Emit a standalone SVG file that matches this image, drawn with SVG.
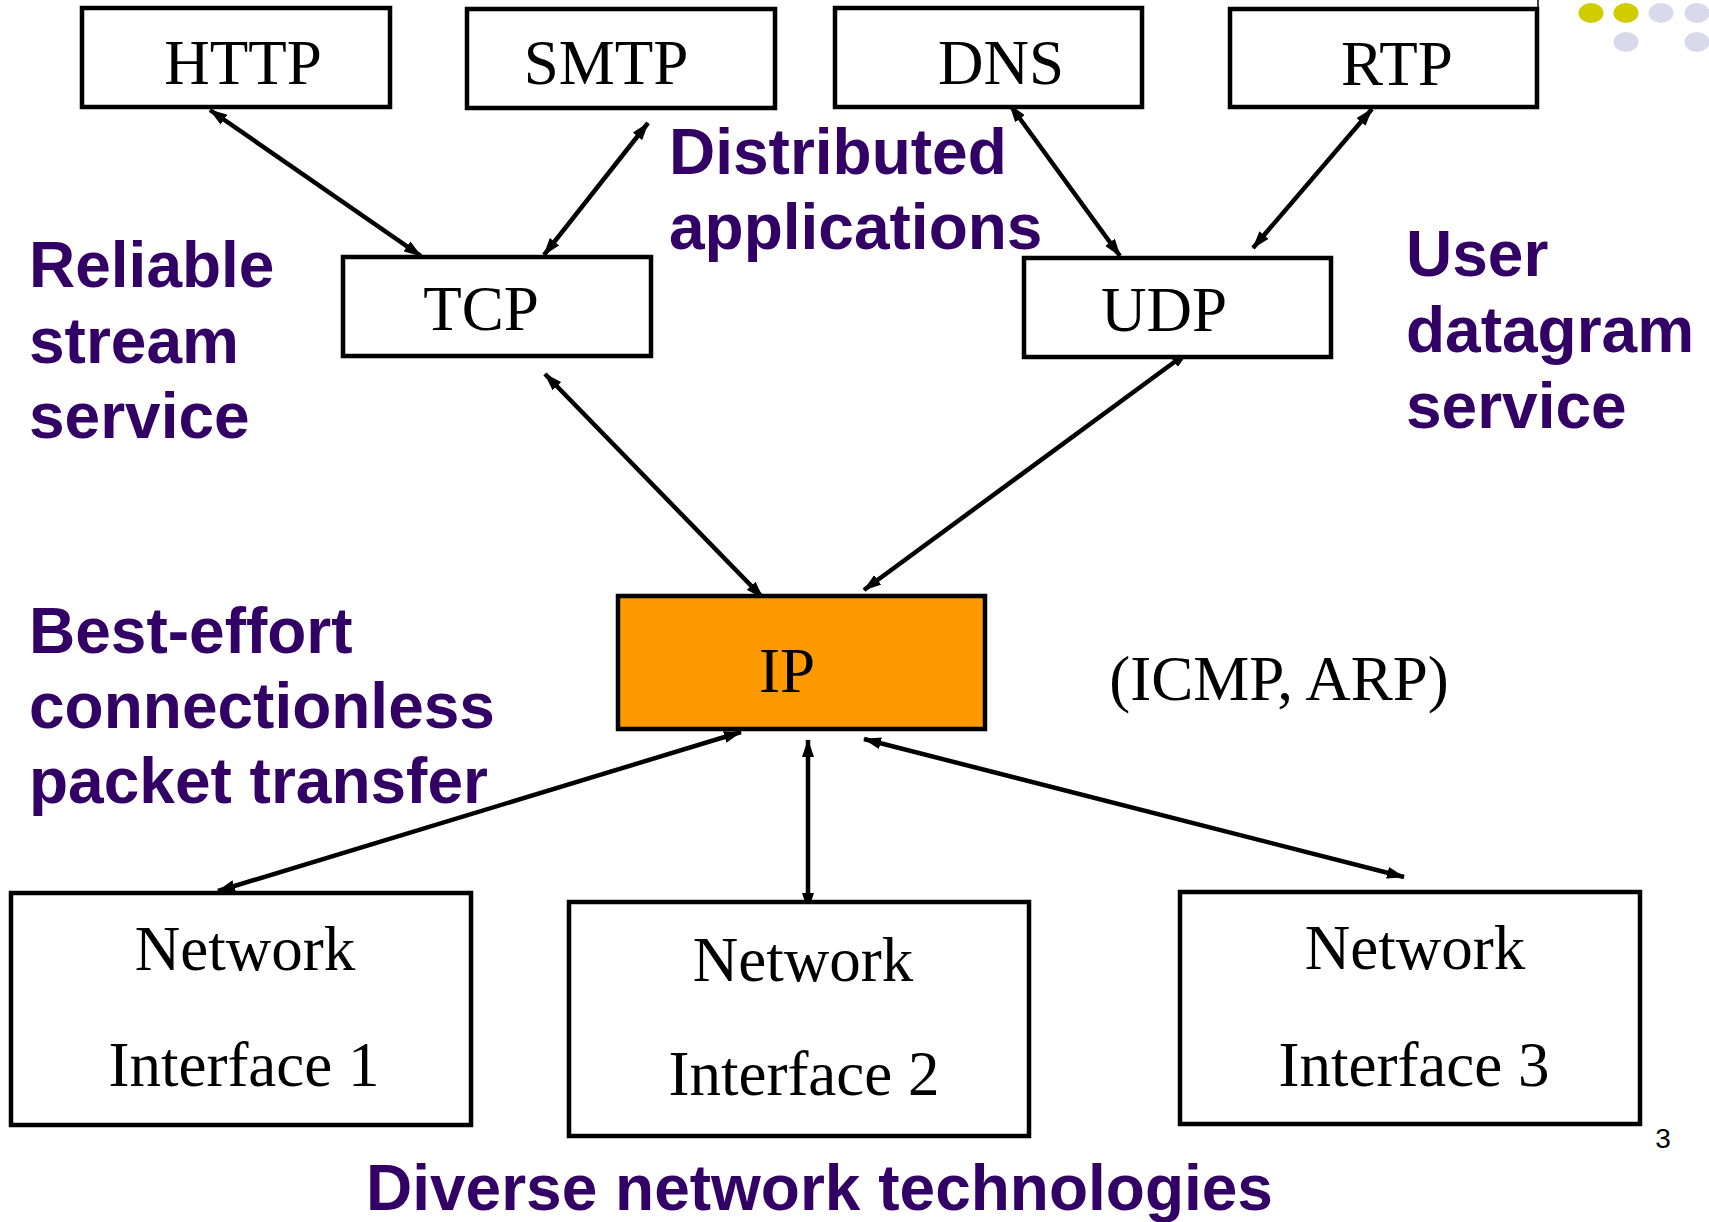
<svg xmlns="http://www.w3.org/2000/svg" width="1709" height="1222" viewBox="0 0 1709 1222">
<style>
.box{fill:#fff;stroke:#000;stroke-width:4.5}
.ip{fill:#FF9900;stroke:#000;stroke-width:4.5}
.t{font-family:"Liberation Serif","Times New Roman",serif;font-size:63px;fill:#000;text-anchor:middle}
.p{font-family:"Liberation Sans",Arial,sans-serif;font-weight:bold;font-size:64px;fill:#330066}
.c{stroke:#000;stroke-width:4.5;fill:none;marker-start:url(#ah);marker-end:url(#ah)}
</style>
<defs>
<marker id="ah" markerUnits="userSpaceOnUse" viewBox="0 0 18 12" refX="17" refY="6" markerWidth="18" markerHeight="12" orient="auto-start-reverse">
<path d="M0,0 L18,6 L0,12 z" fill="#000"/>
</marker>
</defs>
<rect width="1709" height="1222" fill="#fff"/>
<g id="decor">
<line x1="1538" y1="0" x2="1538" y2="9" stroke="#000" stroke-width="1.5"/>
<ellipse cx="1591" cy="13" rx="12.5" ry="10" fill="#D0CC00"/>
<ellipse cx="1626" cy="13" rx="12.5" ry="10" fill="#D0CC00"/>
<ellipse cx="1661" cy="13" rx="12.5" ry="10" fill="#D9D9EC"/>
<ellipse cx="1697" cy="13" rx="12.5" ry="10" fill="#D9D9EC"/>
<ellipse cx="1626" cy="42" rx="12.5" ry="10" fill="#D9D9EC"/>
<ellipse cx="1697" cy="42" rx="12.5" ry="10" fill="#D9D9EC"/>
</g>
<g id="connectors">
<line class="c" x1="210" y1="110" x2="421" y2="256"/>
<line class="c" x1="648" y1="123" x2="544" y2="255"/>
<line class="c" x1="1010" y1="105" x2="1120" y2="256"/>
<line class="c" x1="1372" y1="109" x2="1253" y2="248"/>
<line class="c" x1="545" y1="374" x2="763" y2="598"/>
<line class="c" x1="1188" y1="352" x2="864" y2="590"/>
<line class="c" x1="741" y1="732" x2="218" y2="891"/>
<line class="c" x1="808" y1="740" x2="808" y2="910"/>
<line class="c" x1="864" y1="739" x2="1404" y2="877"/>
</g>
<g id="http"><rect class="box" x="82" y="8" width="308" height="99"/><text class="t" x="243" y="84">HTTP</text></g>
<g id="smtp"><rect class="box" x="467" y="9" width="308" height="99"/><text class="t" x="606" y="84">SMTP</text></g>
<g id="dns"><rect class="box" x="835" y="8" width="307" height="99"/><text class="t" x="1001" y="84">DNS</text></g>
<g id="rtp"><rect class="box" x="1230" y="9" width="307" height="98"/><text class="t" x="1397" y="85">RTP</text></g>
<g id="tcp"><rect class="box" x="343" y="257" width="308" height="99"/><text class="t" x="481" y="330">TCP</text></g>
<g id="udp"><rect class="box" x="1024" y="258" width="307" height="99"/><text class="t" x="1164" y="331">UDP</text></g>
<g id="ip"><rect class="ip" x="618" y="596" width="367" height="133"/><text class="t" x="787" y="692">IP</text></g>
<g id="icmp"><text class="t" x="1279" y="700">(ICMP, ARP)</text></g>
<g id="ni1"><rect class="box" x="11" y="893" width="460" height="232"/><text class="t" x="245" y="970">Network</text><text class="t" x="244" y="1086">Interface 1</text></g>
<g id="ni2"><rect class="box" x="569" y="902" width="460" height="234"/><text class="t" x="803" y="981">Network</text><text class="t" x="804" y="1095">Interface 2</text></g>
<g id="ni3"><rect class="box" x="1180" y="892" width="460" height="232"/><text class="t" x="1415" y="969">Network</text><text class="t" x="1414" y="1086">Interface 3</text></g>
<g id="labels">
<text class="p" x="29" y="287">Reliable</text>
<text class="p" x="29" y="363">stream</text>
<text class="p" x="29" y="438">service</text>
<text class="p" x="669" y="174">Distributed</text>
<text class="p" x="669" y="249">applications</text>
<text class="p" x="1406" y="276">User</text>
<text class="p" x="1406" y="352">datagram</text>
<text class="p" x="1406" y="428">service</text>
<text class="p" x="29" y="653">Best-effort</text>
<text class="p" x="29" y="728">connectionless</text>
<text class="p" x="29" y="803">packet transfer</text>
<text class="p" x="366" y="1210">Diverse network technologies</text>
<text x="1663" y="1148" font-family="Liberation Sans,Arial,sans-serif" font-size="28" text-anchor="middle" fill="#000">3</text>
</g>
</svg>
